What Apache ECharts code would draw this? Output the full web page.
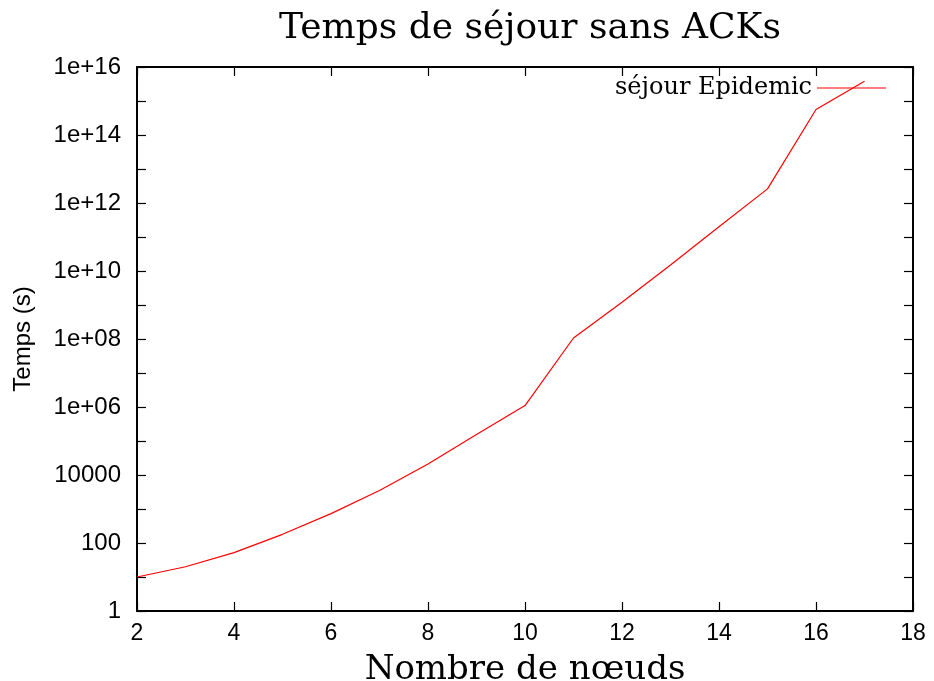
<!DOCTYPE html>
<html>
<head>
<meta charset="utf-8">
<script src="https://cdn.jsdelivr.net/npm/echarts@6/dist/echarts.min.js"></script>
<style>
  html, body { margin: 0; padding: 0; background: #fff; }
  #main { width: 934px; height: 681px; }
</style>
</head>
<body>
<div id="main"></div>
<script>
// nombre de noeuds et temps de séjour (s)
var noeuds = [2, 3, 4, 5, 6, 7, 8, 9, 10, 11, 12, 13, 14, 15, 16, 17];
var sejour = [10, 20, 52, 180, 730, 3500, 21000, 155000, 1.1e6,
  1.07e8, 1.2e9, 1.5e10, 2e11, 2.6e12, 5.6e14, 3.8e15];
var xTicks = [2, 4, 6, 8, 10, 12, 14, 16, 18];

var serif = '"DejaVu Serif", "Liberation Serif", serif';
var sans = '"Liberation Sans", Arial, sans-serif';

function yLabel(v) {
  var e = Math.round(Math.log10(v));
  if (e % 2 !== 0) return '';
  if (e <= 4) return String(Math.pow(10, e));
  return '1e+' + (e < 10 ? '0' + e : e);
}

var data = [];
for (var i = 0; i < noeuds.length; i++) {
  data.push([noeuds[i], sejour[i]]);
}

var myChart = echarts.init(document.getElementById('main'));

var axisLine = { show: true, lineStyle: { color: '#000', width: 2 } };
var tick = { show: true, inside: true, length: 9, lineStyle: { color: '#000', width: 1.2 } };

var option = {
  animation: false,
  title: {
    text: 'Temps de séjour sans ACKs',
    left: 525, top: 6, textAlign: 'center',
    textStyle: { fontFamily: serif, fontSize: 36, fontWeight: 'normal', color: '#000' }
  },
  legend: {
    right: 43, top: 71,
    align: 'right',
    icon: 'rect',
    itemWidth: 69, itemHeight: 1.2, itemGap: 6,
    data: ['séjour Epidemic'],
    textStyle: { fontFamily: serif, fontSize: 24, color: '#000' }
  },
  grid: { left: 137, right: 21, top: 67, bottom: 70, outerBoundsMode: 'none' },
  xAxis: [
    {
      type: 'value', min: 2, max: 18, interval: 2,
      name: 'Nombre de nœuds', nameLocation: 'middle', nameGap: 42,
      nameTextStyle: { fontFamily: serif, fontSize: 34, color: '#000' },
      axisLine: axisLine, axisTick: tick, splitLine: { show: false },
      axisLabel: {
        color: '#000', fontFamily: sans, fontSize: 23, margin: 11,
        formatter: function (v) { return xTicks.indexOf(v) >= 0 ? String(v) : ''; }
      }
    },
    {
      type: 'value', min: 2, max: 18, interval: 2, position: 'top',
      axisLine: axisLine, axisTick: tick, axisLabel: { show: false }, splitLine: { show: false }
    }
  ],
  yAxis: [
    {
      type: 'log', logBase: 10, min: 1, max: 1e16, interval: 1,
      name: 'Temps (s)', nameLocation: 'middle', nameGap: 102, nameRotate: 90,
      nameTextStyle: { fontFamily: sans, fontSize: 24, color: '#000' },
      axisLine: axisLine, axisTick: tick, splitLine: { show: false }, minorTick: { show: false },
      axisLabel: { color: '#000', fontFamily: sans, fontSize: 24, margin: 16, formatter: yLabel }
    },
    {
      type: 'log', logBase: 10, min: 1, max: 1e16, interval: 1, position: 'right',
      axisLine: axisLine, axisTick: tick, axisLabel: { show: false }, splitLine: { show: false }
    }
  ],
  series: [
    {
      name: 'séjour Epidemic',
      type: 'line',
      xAxisIndex: 0, yAxisIndex: 0,
      data: data,
      showSymbol: false, symbol: 'none',
      lineStyle: { color: '#ff0000', width: 1.2 },
      itemStyle: { color: '#ff0000' }
    }
  ]
};

myChart.setOption(option);
</script>
</body>
</html>
